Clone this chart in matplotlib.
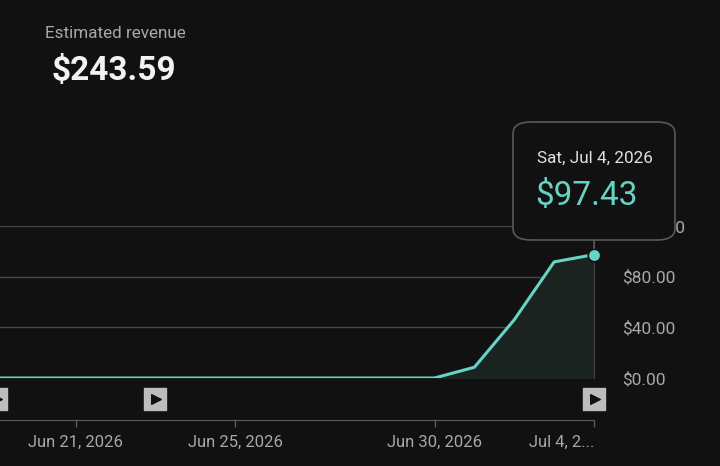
import datetime as dt
import matplotlib
matplotlib.use("Agg")
import matplotlib.pyplot as plt
import matplotlib.dates as mdates
from matplotlib.patches import FancyBboxPatch

plt.rcParams['font.family'] = ['Roboto', 'DejaVu Sans']

# data
dates = [dt.date(2026, 6, d) for d in range(18, 31)] + [dt.date(2026, 7, d) for d in range(1, 5)]
revenue = [0, 0, 0, 0, 0, 0, 0, 0, 0, 0, 0, 0, 0, 8.5, 46.0, 91.66, 97.43]
total_label = "$243.59"
tick_dates = [dt.date(2026, 6, 21), dt.date(2026, 6, 25), dt.date(2026, 6, 30), dt.date(2026, 7, 4)]
tick_labels = ["Jun 21, 2026", "Jun 25, 2026", "Jun 30, 2026", "Jul 4, 2..."]
y_ticks = [0, 40, 80, 120]
y_labels = ["$0.00", "$40.00", "$80.00", "$120.00"]
video_dates = [dt.date(2026, 6, 19), dt.date(2026, 6, 23), dt.date(2026, 7, 4)]

bg = "#111111"
teal = "#66d4c5"
grid_c = "#474747"
txt_c = "#a8a8a8"

W, H = 720, 466
fig = plt.figure(figsize=(7.2, 4.66), dpi=100, facecolor=bg)
ax = fig.add_axes([0, 88 / H, 594 / W, 152 / H])
ax.set_facecolor(bg)

x = mdates.date2num(dates)
ax.fill_between(x, revenue, 0, color="#1b2321", zorder=1)
ax.plot(x, revenue, color=teal, lw=2.2, zorder=3, solid_capstyle="round")
ax.plot(x[-1], revenue[-1], 'o', ms=9, color=teal, mec=bg, mew=1.2, zorder=5, clip_on=False)

ax.set_xlim(mdates.date2num(dt.date(2026, 6, 21)) - 1.9, mdates.date2num(dt.date(2026, 7, 4)))
ax.set_ylim(0, 120)

for v in y_ticks[1:]:
    ax.axhline(v, color=grid_c, lw=1, zorder=0)

# y axis on right
ax.yaxis.tick_right()
ax.set_yticks(y_ticks)
ax.set_yticklabels(y_labels)
ax.tick_params(axis='y', length=0, pad=20, labelsize=12.5, labelcolor=txt_c)
for lab in ax.get_yticklabels():
    lab.set_horizontalalignment('left')

# x axis moved down
ax.spines['left'].set_visible(False)
ax.spines['top'].set_visible(False)
ax.spines['right'].set_color(grid_c)
ax.spines['bottom'].set_color("#5a5a5a")
ax.spines['bottom'].set_position(('outward', 30))
ax.set_xticks(mdates.date2num(tick_dates))
ax.set_xticklabels(tick_labels)
ax.tick_params(axis='x', length=5, width=1, color="#5a5a5a", labelsize=12, labelcolor=txt_c, pad=6)
ax.get_xticklabels()[-1].set_horizontalalignment('right')

# video markers
tr = ax.get_xaxis_transform()
for d in video_dates:
    xv = mdates.date2num(d)
    ax.scatter([xv], [-0.138], marker='s', s=250, color="#bdbdbd", transform=tr, clip_on=False, zorder=6)
    ax.scatter([xv + 0.02], [-0.138], marker='>', s=48, color="#111111", transform=tr, clip_on=False, zorder=7)

# header
fig.text(45 / W, 1 - 33 / H, "Estimated revenue", color=txt_c, fontsize=12.3, va='center', ha='left')
fig.text(52 / W, 1 - 71 / H, total_label, color="#f2f2f2", fontsize=24, fontweight='bold', va='center', ha='left')

# tooltip
box = FancyBboxPatch((513 / W, 1 - 240 / H), 162 / W, 118 / H,
                     boxstyle="round,pad=0,rounding_size=0.025",
                     transform=fig.transFigure, facecolor=bg, edgecolor="#585858", lw=1.2, zorder=10)
fig.add_artist(box)
fig.text(537 / W, 1 - 158 / H, "Sat, Jul 4, 2026", color="#e0e0e0", fontsize=12.3, va='center', ha='left', zorder=11)
fig.text(535 / W, 1 - 196 / H, "$97.43", color=teal, fontsize=24, va='center', ha='left', zorder=11)
fig.add_artist(plt.Line2D([594 / W, 594 / W], [1 - 240 / H, 1 - 248 / H], transform=fig.transFigure,
                          color="#585858", lw=1.2, zorder=9))

fig.savefig("out.png", dpi=100, facecolor=bg)
